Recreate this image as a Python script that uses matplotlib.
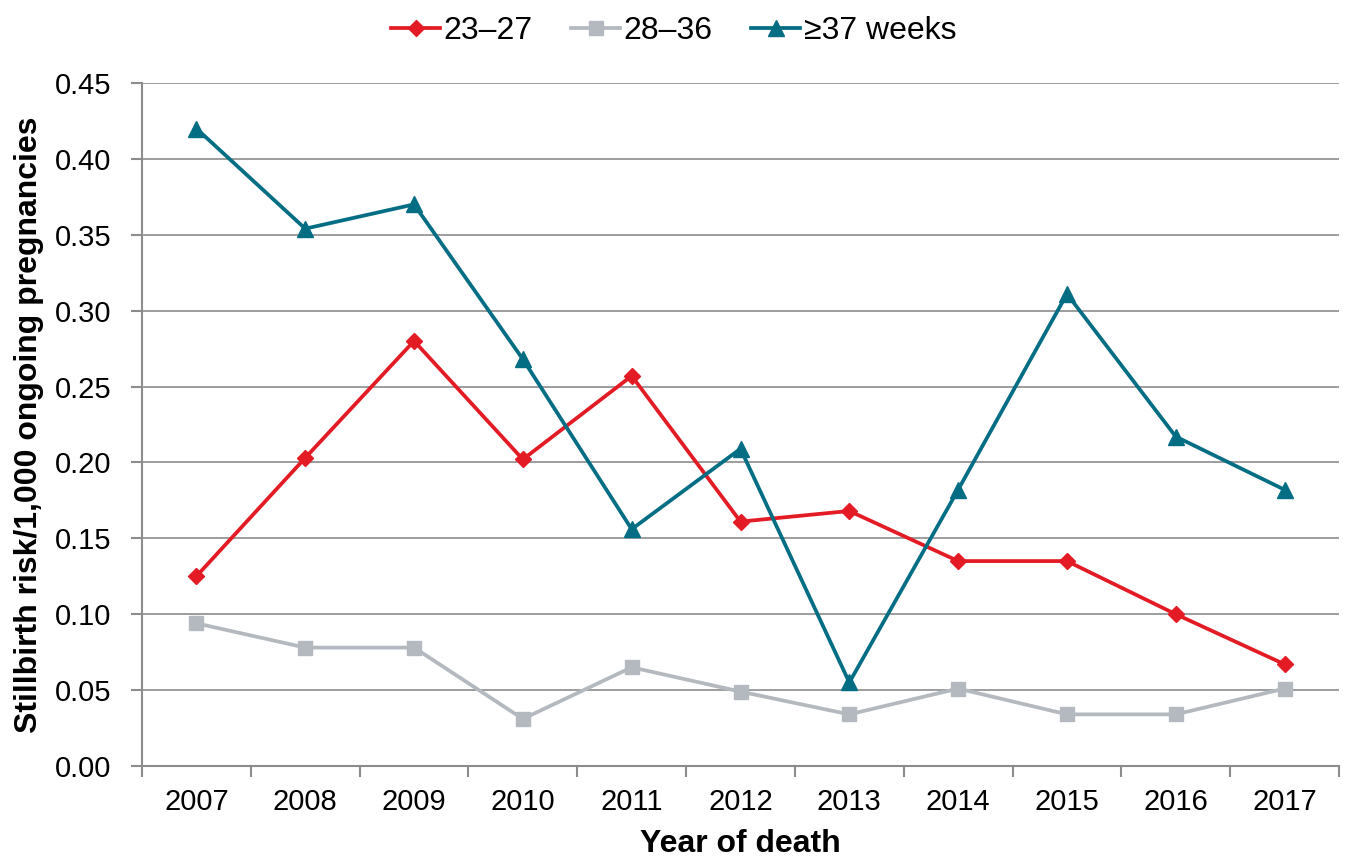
import matplotlib
matplotlib.use("Agg")
import matplotlib.pyplot as plt
import numpy as np

plt.rcParams['font.family'] = ['Liberation Sans', 'DejaVu Sans']

years = ['2007', '2008', '2009', '2010', '2011', '2012', '2013', '2014', '2015', '2016', '2017']
wk_23_27 = [0.125, 0.203, 0.280, 0.202, 0.257, 0.161, 0.168, 0.135, 0.135, 0.100, 0.067]
wk_28_36 = [0.094, 0.078, 0.078, 0.031, 0.065, 0.049, 0.034, 0.051, 0.034, 0.034, 0.051]
wk_37 = [0.420, 0.354, 0.370, 0.268, 0.156, 0.209, 0.055, 0.182, 0.311, 0.217, 0.182]

fig = plt.figure(figsize=(13.46, 8.59), dpi=100)
ax = fig.add_axes([0.1055, 0.1083, 0.8893, 0.7951])

x = np.arange(len(years))
ax.plot(x, wk_23_27, color='#E21B25', lw=2.7, marker='D', ms=8.5, label='23\u201327', zorder=3)
ax.plot(x, wk_28_36, color='#B3B9BE', lw=2.7, marker='s', ms=10.5, label='28\u201336', zorder=3)
ax.plot(x, wk_37, color='#036E83', lw=2.7, marker='^', ms=11.5, label='\u226537 weeks', zorder=3)

ax.set_xlim(-0.5, len(years) - 0.5)
ax.set_ylim(0, 0.45)
ax.set_yticks(np.arange(0, 0.451, 0.05))
ax.set_yticklabels(['%.2f' % v for v in np.arange(0, 0.451, 0.05)])
ax.set_xticks(x)
ax.set_xticklabels(years)
ax.set_xticks(np.arange(-0.5, len(years), 1), minor=True)

ax.grid(axis='y', color='#8C8C8C', lw=1.2, zorder=0)
for s in ['top', 'right']:
    ax.spines[s].set_visible(False)
ax.spines['left'].set_color('#8C8C8C')
ax.spines['bottom'].set_color('#8C8C8C')
ax.spines['left'].set_linewidth(1.5)
ax.spines['bottom'].set_linewidth(1.5)

ax.tick_params(axis='x', which='major', length=0, labelsize=21, pad=16)
ax.tick_params(axis='x', which='minor', length=8, color='#8C8C8C', width=1.5)
ax.tick_params(axis='y', length=8, color='#8C8C8C', width=1.5, labelsize=21, pad=14)

ax.set_xlabel('Year of death', fontsize=23, fontweight='bold', labelpad=9)
ax.set_ylabel('Stillbirth risk/1,000 ongoing pregnancies', fontsize=23, fontweight='bold', labelpad=8)

ax.legend(loc='lower center', bbox_to_anchor=(0.444, 1.012), ncol=3, frameon=False,
          fontsize=23, handlelength=1.55, columnspacing=1.2, handletextpad=0.1)

fig.savefig('out.png', dpi=100)
